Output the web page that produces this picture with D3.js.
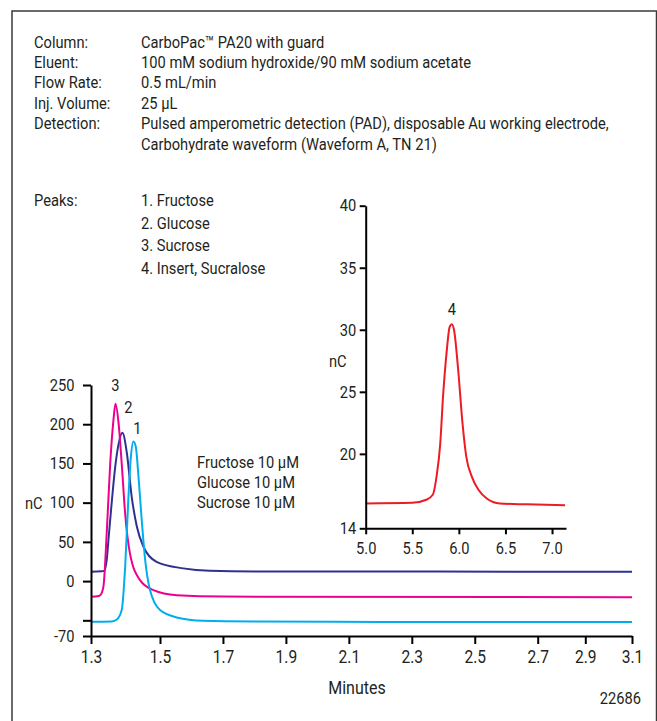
<!DOCTYPE html>
<html>
<head>
<meta charset="utf-8">
<script src="https://cdn.jsdelivr.net/npm/d3@7"></script>
<style>
    body { margin: 0; background: #ffffff; }
    svg { display: block; }
    text { font-family: Roboto, "Liberation Sans", sans-serif; fill: #231f20; }
</style>
</head>
<body>
<div id="chart"></div>
<script>
"use strict";

// condition block
const conditionLabels = ["Column:", "Eluent:", "Flow Rate:", "Inj. Volume:", "Detection:", ""];
const conditionValues = [
    "CarboPac\u2122 PA20 with guard",
    "100 mM sodium hydroxide/90 mM sodium acetate",
    "0.5 mL/min",
    "25 \u00b5L",
    "Pulsed amperometric detection (PAD), disposable Au working electrode,",
    "Carbohydrate waveform (Waveform A, TN 21)"
];
const peakNames = ["1. Fructose", "2. Glucose", "3. Sucrose", "4. Insert, Sucralose"];
const standards = ["Fructose 10 \u00b5M", "Glucose 10 \u00b5M", "Sucrose 10 \u00b5M"];

// axes
const mainXTicks = [1.3, 1.5, 1.7, 1.9, 2.1, 2.3, 2.5, 2.7, 2.9, 3.1];
const mainYTicks = [-70, -50, 0, 50, 100, 150, 200, 250];
const insetXTicks = [5.0, 5.5, 6.0, 6.5, 7.0];
const insetYTicks = [14, 20, 25, 30, 35, 40];

// traces [minutes, nC]
const fructose = [[1.3, -51.9], [1.36, -51.5], [1.375, -49], [1.389, -37], [1.399, 18], [1.4085, 107],
    [1.4155, 158], [1.423, 178], [1.43, 171], [1.437, 137], [1.447, 78], [1.457, 27], [1.471, -11.5],
    [1.5, -37], [1.553, -46.3], [1.637, -50.6], [1.8, -51.5], [2.2, -52], [3.1, -52]];
const glucose = [[1.3, 12], [1.33, 12.5], [1.338, 13], [1.345, 25], [1.352, 60], [1.36, 100], [1.37, 145],
    [1.38, 175], [1.391, 189], [1.404, 163], [1.418, 107.5], [1.433, 69.3], [1.452, 43.8], [1.49, 24.6],
    [1.574, 16.2], [1.658, 13.1], [1.8, 12.3], [3.1, 12]];
const sucrose = [[1.3, -20], [1.322, -19], [1.327, -17.9], [1.336, -7], [1.346, 65], [1.3557, 150],
    [1.365, 205], [1.371, 226], [1.38, 201], [1.389, 150], [1.399, 86], [1.413, 35], [1.442, 1.3],
    [1.481, -11.5], [1.553, -17.9], [1.7, -19.8], [3.1, -20.5]];
const sucralose = [[5.0, 16.0], [5.5, 16.05], [5.65, 16.3], [5.72, 16.7], [5.76, 18.15], [5.80, 20.8],
    [5.83, 24.6], [5.87, 28.3], [5.90, 30.2], [5.925, 30.45], [5.95, 29.9], [5.99, 27.0], [6.04, 22.4],
    [6.08, 19.75], [6.14, 18.15], [6.21, 17.1], [6.30, 16.4], [6.44, 16.0], [6.73, 15.93], [7.14, 15.85]];

const peakLabels = [
    {label: "3", t: 1.371, v: 226},
    {label: "2", t: 1.391, v: 189},
    {label: "1", t: 1.423, v: 178}
];
// label nudges off the apex, px
const labelNudge = {"3": [0, -13], "2": [6, -20], "1": [4, -7]};

const width = 657,
    height = 721;

// the original type is a condensed face, so every text gets squeezed
const squeezeX = 0.89;
const fs = 16.5;

const svg = d3.select("#chart").append("svg")
    .attr("width", width)
    .attr("height", height);

// frame
svg.append("rect")
    .attr("x", 12)
    .attr("y", 11)
    .attr("width", 644.5)
    .attr("height", 730)
    .attr("fill", "none")
    .attr("stroke", "#3a3a3a")
    .attr("stroke-width", 1.5);

// conditions
const cond = svg.append("g").style("font-size", fs + "px");
cond.selectAll("text.lbl")
    .data(conditionLabels)
    .enter().append("text")
    .attr("class", "lbl")
    .attr("x", 34)
    .attr("y", (d, i) => 47.5 + i * 20.4)
    .text(d => d);
cond.selectAll("text.val")
    .data(conditionValues)
    .enter().append("text")
    .attr("class", "val")
    .attr("x", 141)
    .attr("y", (d, i) => 47.5 + i * 20.4)
    .text(d => d);

cond.append("text")
    .attr("x", 34)
    .attr("y", 205.7)
    .text("Peaks:");
cond.selectAll("text.peak")
    .data(peakNames)
    .enter().append("text")
    .attr("class", "peak")
    .attr("x", 141)
    .attr("y", (d, i) => 205.7 + i * 22.8)
    .text(d => d);

// main chromatogram
const x = d3.scaleLinear()
    .domain([1.3, 1.5, 2.7, 2.9, 3.1])
    .range([91, 160, 537.7, 585.3, 632]);
const y = d3.scaleLinear()
    .domain([-70, 250])
    .range([636, 385]);

const line = d3.line()
    .x(d => x(d[0]))
    .y(d => y(d[1]))
    .curve(d3.curveMonotoneX);

const traces = [
    {data: glucose, color: "#2e3192"},
    {data: sucrose, color: "#ec008c"},
    {data: fructose, color: "#00aeef"}
];

svg.append("g").selectAll("path")
    .data(traces)
    .enter().append("path")
    .attr("d", d => line(d.data))
    .attr("fill", "none")
    .attr("stroke", d => d.color)
    .attr("stroke-width", 2)
    .attr("stroke-linejoin", "round");

const styleAxis = function(g, size) {
    g.selectAll(".domain").attr("stroke", "#000").attr("stroke-width", 2);
    g.selectAll(".tick line").attr("stroke", "#000").attr("stroke-width", 2);
    g.selectAll(".tick text").style("font-size", size + "px").attr("fill", "#231f20");
    g.attr("font-family", null);
};

svg.append("g")
    .attr("transform", "translate(0,636)")
    .call(d3.axisBottom(x)
        .tickValues(mainXTicks)
        .tickFormat(d3.format(".1f"))
        .tickSize(8)
        .tickSizeOuter(0)
        .tickPadding(7))
    .call(g => styleAxis(g, 17.5));

svg.append("g")
    .attr("transform", "translate(91,0)")
    .call(d3.axisLeft(y)
        .tickValues(mainYTicks)
        .tickFormat(d => d === -50 ? "" : d)
        .tickSize(8)
        .tickSizeOuter(0)
        .tickPadding(8.5))
    .call(g => styleAxis(g, 16.5));

svg.append("text")
    .attr("x", 25)
    .attr("y", y(100) + 6)
    .style("font-size", fs + "px")
    .text("nC");

svg.append("g").selectAll("text")
    .data(peakLabels)
    .enter().append("text")
    .attr("x", d => x(d.t) + labelNudge[d.label][0])
    .attr("y", d => y(d.v) + labelNudge[d.label][1])
    .attr("text-anchor", "middle")
    .style("font-size", fs + "px")
    .text(d => d.label);

svg.append("g").selectAll("text")
    .data(standards)
    .enter().append("text")
    .attr("x", 197)
    .attr("y", (d, i) => 468.3 + i * 20)
    .style("font-size", fs + "px")
    .text(d => d);

svg.append("text")
    .attr("x", 357)
    .attr("y", 694)
    .attr("text-anchor", "middle")
    .style("font-size", "18px")
    .text("Minutes");

svg.append("text")
    .attr("x", 641)
    .attr("y", 704)
    .attr("text-anchor", "end")
    .style("font-size", "16.5px")
    .text("22686");

// inset
const ix = d3.scaleLinear()
    .domain([5.0, 7.15])
    .range([365.7, 566]);
const iy = d3.scaleLinear()
    .domain([14, 40])
    .range([528.3, 205.7]);

svg.append("path")
    .attr("d", d3.line()
        .x(d => ix(d[0]))
        .y(d => iy(d[1]))
        .curve(d3.curveMonotoneX)(sucralose))
    .attr("fill", "none")
    .attr("stroke", "#ed1c24")
    .attr("stroke-width", 2);

svg.append("g")
    .attr("transform", "translate(0,528.3)")
    .call(d3.axisBottom(ix)
        .tickValues(insetXTicks)
        .tickFormat(d3.format(".1f"))
        .tickSize(6)
        .tickSizeOuter(0)
        .tickPadding(8))
    .call(g => styleAxis(g, 16.5));

svg.append("g")
    .attr("transform", "translate(365.7,0)")
    .call(d3.axisLeft(iy)
        .tickValues(insetYTicks)
        .tickSize(6)
        .tickSizeOuter(0)
        .tickPadding(3.5))
    .call(g => styleAxis(g, 16.5));

svg.append("text")
    .attr("x", 329)
    .attr("y", iy(27.5) + 6)
    .style("font-size", fs + "px")
    .text("nC");

svg.append("text")
    .attr("x", ix(5.925))
    .attr("y", iy(30.45) - 9)
    .attr("text-anchor", "middle")
    .style("font-size", fs + "px")
    .text("4");

// condense all text around its own anchor point
svg.selectAll("text").each(function() {
    const t = d3.select(this);
    const tx = +t.attr("x") || 0,
        ty = +t.attr("y") || 0;
    t.attr("x", null)
        .attr("y", null)
        .attr("transform", `translate(${tx},${ty}) scale(${squeezeX},1)`);
});
</script>
</body>
</html>
